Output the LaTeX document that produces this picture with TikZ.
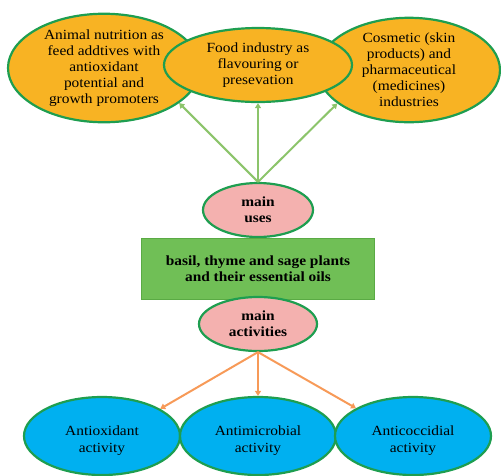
\documentclass[tikz,border=0pt]{standalone}
\usepackage{fontspec}
\setmainfont{Liberation Serif}[FakeStretch=1.1]
\usetikzlibrary{shapes.geometric,arrows.meta}
\definecolor{borderg}{HTML}{1E9E50}
\definecolor{orangef}{HTML}{F8B323}
\definecolor{pinkf}{HTML}{F4B1AF}
\definecolor{rectf}{HTML}{70BF56}
\definecolor{rectb}{HTML}{5AAA44}
\definecolor{bluef}{HTML}{00B0F0}
\definecolor{garrow}{HTML}{8CC46B}
\definecolor{oarrow}{HTML}{F79A58}
\tikzset{
  ell/.style={ellipse, draw=borderg, line width=2.2pt, inner sep=0pt, align=center, font=\fontsize{14}{16}\selectfont},
  topell/.style={ell, fill=orangef},
  midell/.style={ell, fill=pinkf, font=\bfseries\fontsize{14}{16}\selectfont},
  botell/.style={ell, fill=bluef, minimum width=156pt, minimum height=78pt},
  botlbl/.style={align=center, inner sep=0pt, yshift=-5pt, font=\fontsize{14}{17}\selectfont},
  garr/.style={draw=garrow, line width=2pt, -{Triangle[length=5pt,width=6pt]}},
  oarr/.style={draw=oarrow, line width=2pt, -{Triangle[length=5pt,width=6pt]}},
}
\begin{document}
\begin{tikzpicture}[x=1pt,y=-1pt]
\useasboundingbox (0,0) rectangle (501,475);
\node[topell, minimum width=192pt, minimum height=100pt] (animal) at (104,68)
  {Animal nutrition as\\feed addtives with\\antioxidant\\potential and\\growth promoters};
\node[topell, minimum width=182pt, minimum height=96pt] (cosm) at (409,70)
  {Cosmetic (skin\\products) and\\pharmaceutical\\(medicines)\\industries};
\node[topell, minimum width=188pt, minimum height=74pt] (food) at (258,65)
  {Food industry as\\flavouring or\\presevation};
\node[midell, minimum width=110pt, minimum height=54pt] (uses) at (258,210) {main\\uses};
\node[draw=rectb, fill=rectf, line width=0.8pt, minimum width=233pt, minimum height=61pt, inner sep=0pt,
  align=center, font=\bfseries\fontsize{14}{16}\selectfont] (plants) at (258,269)
  {basil, thyme and sage plants\\and their essential oils};
\node[midell, minimum width=118pt, minimum height=54pt] (acts) at (258,324) {main\\activities};
\node[botell, label={[botlbl]center:{Antioxidant\\activity}}] (antiox) at (102,436) {};
\node[botell, label={[botlbl]center:{Antimicrobial\\activity}}] (antimic) at (258,436) {};
\node[botell, label={[botlbl]center:{Anticoccidial\\activity}}] (anticoc) at (413,436) {};
\draw[garr] (uses.north) -- (animal.-25);
\draw[garr] (uses.north) -- (food.south);
\draw[garr] (uses.north) -- (cosm.205);
\draw[oarr] (acts.south) -- (antiox.25);
\draw[oarr] (acts.south) -- (antimic.north);
\draw[oarr] (acts.south) -- (anticoc.154);
\end{tikzpicture}
\end{document}
